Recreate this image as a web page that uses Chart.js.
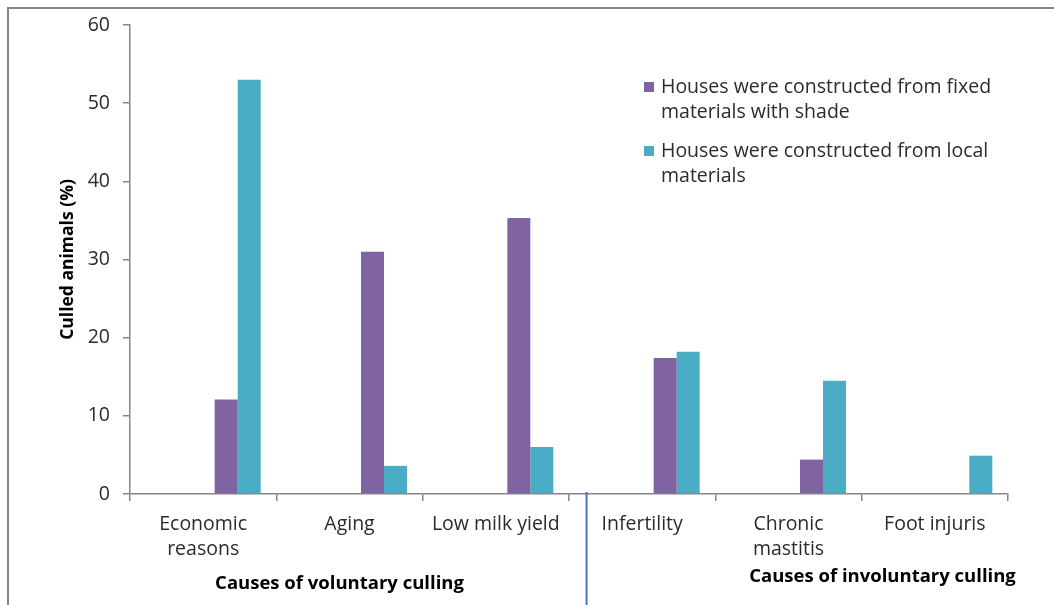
<!DOCTYPE html>
<html>
<head>
<meta charset="utf-8">
<script src="https://cdn.jsdelivr.net/npm/chart.js@4/dist/chart.umd.min.js"></script>
<style>
  html, body { margin: 0; padding: 0; background: #fff; }
  #wrap { width: 1054px; height: 605px; position: relative; }
</style>
</head>
<body>
<div id="wrap"><canvas id="culling-chart"></canvas></div>
<script>
const categories = [['Economic', 'reasons'], 'Aging', 'Low milk yield', 'Infertility', ['Chronic', 'mastitis'], 'Foot injuris'];
const fixedHouses = [12.1, 31.0, 35.3, 17.4, 4.4, 0];
const localHouses = [53.0, 3.6, 6.0, 18.2, 14.5, 4.9];
const seriesLabels = [
    ['Houses were constructed from fixed', 'materials with shade'],
    ['Houses were constructed from local', 'materials']
];
const groupLabels = ['Causes of voluntary culling', 'Causes of involuntary culling'];
const yTicks = [0, 10, 20, 30, 40, 50, 60];

const purple = '#8064A2';
const teal = '#4BACC6';
const axisGray = '#868686';
const textGray = '#2b2b2b';
const font = "'Open Sans', sans-serif";

// excel chart had three empty series in front, which pushes the bars right
const blank = categories.map(() => null);

const overlay = {
    id: 'overlay',
    afterDraw(chart) {
        const ctx = chart.ctx;
        const x = chart.scales.x;
        const area = chart.chartArea;
        const step = x.width / categories.length;
        ctx.save();

        // frame (top + left only)
        ctx.strokeStyle = axisGray;
        ctx.lineWidth = 2;
        ctx.beginPath();
        ctx.moveTo(8, 605);
        ctx.lineTo(8, 8);
        ctx.lineTo(1054, 8);
        ctx.stroke();

        // divider between voluntary / involuntary
        const divX = x.getPixelForValue(2) + step * 0.62;
        ctx.strokeStyle = '#4472C4';
        ctx.lineWidth = 2;
        ctx.beginPath();
        ctx.moveTo(divX, area.bottom - 2);
        ctx.lineTo(divX, 605);
        ctx.stroke();

        // group labels
        ctx.fillStyle = '#000';
        ctx.font = 'bold 18.5px ' + font;
        ctx.textAlign = 'center';
        ctx.textBaseline = 'middle';
        ctx.fillText(groupLabels[0], x.getPixelForValue(1) - 10, 584);
        ctx.fillText(groupLabels[1], x.getPixelForValue(4) + 94, 577);

        // legend inside plot
        const colors = [purple, teal];
        const tops = [87, 151];
        ctx.font = '19.5px ' + font;
        ctx.textAlign = 'left';
        seriesLabels.forEach((lines, i) => {
            ctx.fillStyle = colors[i];
            ctx.fillRect(644, tops[i] - 5, 10, 10);
            ctx.fillStyle = textGray;
            lines.forEach((t, j) => ctx.fillText(t, 661, tops[i] + j * 25));
        });
        ctx.restore();
    }
};

new Chart(document.getElementById('culling-chart'), {
    type: 'bar',
    data: {
        labels: categories,
        datasets: [
            { label: '', data: blank },
            { label: '', data: blank },
            { label: '', data: blank },
            { label: seriesLabels[0].join(' '), data: fixedHouses, backgroundColor: purple },
            { label: seriesLabels[1].join(' '), data: localHouses, backgroundColor: teal }
        ]
    },
    options: {
        responsive: true,
        maintainAspectRatio: false,
        animation: false,
        datasets: {
            bar: { categoryPercentage: 0.786, barPercentage: 1.0 }
        },
        layout: { padding: { top: 25, right: 46, left: 58, bottom: 0 } },
        plugins: {
            legend: { display: false },
            tooltip: { enabled: false }
        },
        scales: {
            x: {
                offset: true,
                grid: { offset: true, drawOnChartArea: false, drawTicks: true, tickLength: 7, color: axisGray, lineWidth: 1.5 },
                border: { color: axisGray, width: 1.5 },
                ticks: { color: textGray, font: { family: font, size: 19.5, lineHeight: 1.33 }, padding: 10, maxRotation: 0, autoSkip: false },
                afterFit(scale) { scale.height = 111; }
            },
            y: {
                min: 0,
                max: 60,
                afterBuildTicks(scale) { scale.ticks = yTicks.map(v => ({ value: v })); },
                grid: { drawOnChartArea: false, drawTicks: true, tickLength: 7, color: axisGray, lineWidth: 1.5 },
                border: { color: axisGray, width: 1.5 },
                ticks: { color: textGray, font: { family: font, size: 19.5 }, padding: 13 },
                title: {
                    display: true,
                    text: 'Culled animals (%)',
                    color: '#000',
                    font: { family: font, size: 17.5, weight: 'bold' },
                    padding: { top: 0, bottom: 0 }
                },
                afterFit(scale) { scale.width = 72; }
            }
        }
    },
    plugins: [overlay]
});
</script>
</body>
</html>
